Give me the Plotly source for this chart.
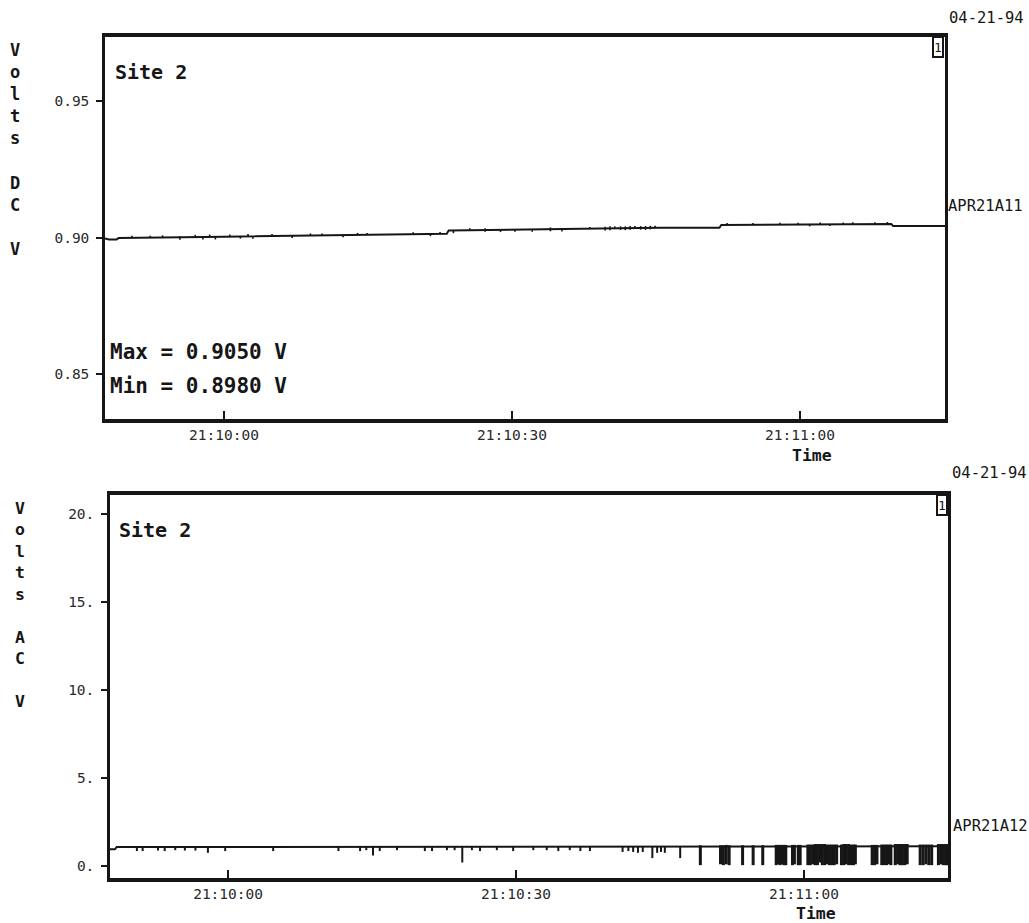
import pandas as pd
import plotly.graph_objects as go

BASE = pd.Timestamp("1994-04-21 21:10:00")

# ---------------- DC channel APR21A11 (seconds from 21:10:00, volts) ----------------
dc_time = [-12.4, -12.0, -11.2, -11.0, 0.0, 10.0, 23.2, 23.4, 33.6, 39.2, 45.4,
           51.6, 51.8, 60.0, 69.5, 69.7, 75.2]
dc_volts = [0.8997, 0.8993, 0.8993, 0.8998, 0.9003, 0.9008, 0.9014, 0.9026, 0.9029,
            0.9033, 0.9036, 0.9036, 0.9046, 0.9048, 0.9050, 0.9042, 0.9042]

# per-sample min / max excursions of the DC reading
dc_spike_time = [-9.6, -7.7, -6.4, -4.6, -3.0, -2.2, -1.5, -0.9, 0.6, 1.7,
                 2.5, 3.0, 5.0, 7.1, 9.0, 10.2, 12.4, 13.9, 14.9, 19.7,
                 21.5, 22.5, 23.9, 25.6, 27.2, 28.8, 30.3, 32.1, 34.0, 35.2,
                 38.1, 39.7, 40.2, 40.7, 41.3, 41.8, 42.3, 42.8, 43.4, 43.9,
                 44.4, 44.9, 52.4, 55.1, 57.9, 59.8, 61.0, 62.1, 63.1, 64.5,
                 65.5, 67.8, 69.1]
dc_spike_low = [0.8998, 0.8999, 0.8999, 0.8992, 0.9001, 0.8993, 0.9002, 0.8993, 0.9003, 0.8996,
                0.9004, 0.8996, 0.9005, 0.8998, 0.9007, 0.9008, 0.9001, 0.9009, 0.9010, 0.9012,
                0.9005, 0.9013, 0.9016, 0.9027, 0.9021, 0.9020, 0.9021, 0.9021, 0.9023, 0.9022,
                0.9032, 0.9026, 0.9027, 0.9034, 0.9028, 0.9027, 0.9029, 0.9035, 0.9029, 0.9028,
                0.9030, 0.9036, 0.9046, 0.9047, 0.9047, 0.9048, 0.9041, 0.9048, 0.9042, 0.9049,
                0.9049, 0.9050, 0.9050]
dc_spike_high = [0.9007, 0.9007, 0.9008, 0.9004, 0.9010, 0.9002, 0.9011, 0.9002, 0.9011, 0.9004,
                 0.9013, 0.9004, 0.9013, 0.9006, 0.9015, 0.9015, 0.9009, 0.9017, 0.9017, 0.9019,
                 0.9013, 0.9020, 0.9026, 0.9034, 0.9034, 0.9028, 0.9028, 0.9029, 0.9037, 0.9030,
                 0.9039, 0.9040, 0.9041, 0.9041, 0.9041, 0.9041, 0.9042, 0.9042, 0.9042, 0.9042,
                 0.9043, 0.9043, 0.9053, 0.9053, 0.9054, 0.9054, 0.9048, 0.9055, 0.9049, 0.9055,
                 0.9056, 0.9056, 0.9057]

# ---------------- AC channel APR21A12 (seconds from 21:10:00, volts) ----------------
ac_time = [-12.3, -11.8, -11.6, 20.0, 40.0, 60.0, 75.0]
ac_volts = [0.95, 0.95, 1.08, 1.08, 1.10, 1.12, 1.12]

# small dips of the AC reading
ac_dip_time = [-9.5, -8.9, -7.3, -6.6, -5.5, -4.5, -3.4, -2.1, -0.3, 4.7,
               11.5, 13.75, 14.4, 15.1, 15.8, 17.6, 20.5, 21.25, 22.8, 23.6,
               24.4, 25.4, 26.25, 28.0, 29.7, 31.8, 33.2, 34.4, 35.6, 36.7,
               37.7, 41.1, 41.7, 42.2, 42.7, 43.2, 44.2, 44.7, 45.1, 45.5,
               47.1]
ac_dip_low = [0.85, 0.85, 0.88, 0.85, 0.90, 0.88, 0.88, 0.75, 0.85, 0.85,
              0.85, 0.85, 0.90, 0.60, 0.85, 0.90, 0.85, 0.85, 0.90, 0.90,
              0.20, 0.90, 0.85, 0.90, 0.85, 0.90, 0.90, 0.85, 0.90, 0.85,
              0.85, 0.80, 0.85, 0.80, 0.75, 0.80, 0.45, 0.75, 0.80, 0.75,
              0.45]
ac_dip_high = [1.08, 1.08, 1.08, 1.08, 1.08, 1.08, 1.08, 1.08, 1.08, 1.08,
               1.08, 1.08, 1.08, 1.08, 1.08, 1.08, 1.08, 1.08, 1.08, 1.08,
               1.08, 1.08, 1.08, 1.08, 1.08, 1.09, 1.09, 1.09, 1.09, 1.09,
               1.10, 1.10, 1.10, 1.10, 1.10, 1.10, 1.10, 1.10, 1.10, 1.10,
               1.10]

# burst of full-depth drop-outs near the end of the record
ac_burst_time = [49.2, 51.3, 51.6, 51.9, 52.2, 53.6, 54.7, 55.7, 57.1, 57.3,
                 57.5, 57.7, 57.9, 58.1, 58.8, 59.0, 59.4, 59.6, 60.4, 60.65,
                 60.9, 61.15, 61.4, 61.65, 61.9, 62.15, 62.4, 62.65, 62.9, 63.15,
                 63.4, 63.9, 64.15, 64.4, 64.65, 64.9, 65.15, 65.35, 67.1, 67.35,
                 67.6, 68.1, 68.35, 68.6, 68.85, 69.05, 69.5, 69.75, 70.0, 70.25,
                 70.5, 70.75, 72.1, 72.4, 72.7, 73.0, 73.3, 74.0, 74.25, 74.5,
                 74.75, 74.95]
ac_burst_low = [0.05, 0.10, 0.05, 0.10, 0.05, 0.05, 0.05, 0.05, 0.05, 0.10,
                0.05, 0.10, 0.05, 0.05, 0.05, 0.10, 0.05, 0.05, 0.05, 0.05,
                0.10, 0.05, 0.05, 0.20, 0.05, 0.05, 0.10, 0.05, 0.05, 0.05,
                0.10, 0.05, 0.05, 0.10, 0.05, 0.05, 0.05, 0.10, 0.05, 0.05,
                0.10, 0.05, 0.05, 0.05, 0.10, 0.05, 0.05, 0.10, 0.05, 0.05,
                0.05, 0.10, 0.05, 0.05, 0.10, 0.05, 0.05, 0.05, 0.10, 0.05,
                0.05, 0.05]
ac_burst_high = [1.18, 1.18, 1.18, 1.20, 1.18, 1.18, 1.18, 1.18, 1.20, 1.20,
                 1.20, 1.20, 1.20, 1.20, 1.20, 1.20, 1.20, 1.20, 1.22, 1.22,
                 1.22, 1.25, 1.25, 1.25, 1.25, 1.25, 1.22, 1.22, 1.22, 1.22,
                 1.22, 1.22, 1.25, 1.25, 1.25, 1.22, 1.22, 1.22, 1.20, 1.20,
                 1.20, 1.22, 1.22, 1.22, 1.22, 1.22, 1.25, 1.25, 1.25, 1.25,
                 1.25, 1.25, 1.22, 1.22, 1.22, 1.22, 1.22, 1.25, 1.25, 1.25,
                 1.25, 1.25]

x_tick_secs = [0, 30, 60]
x_tick_text = ["21:10:00", "21:10:30", "21:11:00"]
dc_tick_vals = [0.85, 0.90, 0.95]
dc_tick_text = ["0.85", "0.90", "0.95"]
ac_tick_vals = [0, 5, 10, 15, 20]
ac_tick_text = ["0.", "5.", "10.", "15.", "20."]


def ts(secs):
    return [(BASE + pd.Timedelta(seconds=s)).strftime("%Y-%m-%d %H:%M:%S.%f") for s in secs]


def spike_xy(t, lo, hi):
    xs, ys = [], []
    for a, b, c in zip(ts(t), lo, hi):
        xs += [a, a, None]
        ys += [b, c, None]
    return xs, ys


W, H = 1029, 923
def px(x):
    return x / W
def py(y):
    return 1 - y / H

INK = "#161616"
MONO = "DejaVu Sans Mono"

fig = go.Figure()

# DC panel
fig.add_trace(go.Scatter(x=ts(dc_time), y=dc_volts, mode="lines",
                         line=dict(color=INK, width=2), xaxis="x", yaxis="y",
                         hoverinfo="skip"))
sx, sy = spike_xy(dc_spike_time, dc_spike_low, dc_spike_high)
fig.add_trace(go.Scatter(x=sx, y=sy, mode="lines", line=dict(color=INK, width=1.6),
                         xaxis="x", yaxis="y", hoverinfo="skip", connectgaps=False))

# AC panel
fig.add_trace(go.Scatter(x=ts(ac_time), y=ac_volts, mode="lines",
                         line=dict(color=INK, width=2), xaxis="x2", yaxis="y2",
                         hoverinfo="skip"))
sx, sy = spike_xy(ac_dip_time, ac_dip_low, ac_dip_high)
fig.add_trace(go.Scatter(x=sx, y=sy, mode="lines", line=dict(color=INK, width=2),
                         xaxis="x2", yaxis="y2", hoverinfo="skip", connectgaps=False))
sx, sy = spike_xy(ac_burst_time, ac_burst_low, ac_burst_high)
fig.add_trace(go.Scatter(x=sx, y=sy, mode="lines", line=dict(color=INK, width=3),
                         xaxis="x2", yaxis="y2", hoverinfo="skip", connectgaps=False))

tick_font = dict(family=MONO, size=14.5, color="#2a2a2a")
common_x = dict(type="date", tickvals=ts(x_tick_secs), ticktext=x_tick_text,
                ticks="inside", ticklen=8, tickwidth=1.5, tickcolor=INK,
                showline=True, mirror=True, linewidth=4, linecolor=INK,
                showgrid=False, zeroline=False, tickfont=tick_font)
common_y = dict(ticks="outside", ticklen=6, tickwidth=1.5, tickcolor=INK,
                showline=True, mirror=True, linewidth=2.5, linecolor=INK,
                showgrid=False, zeroline=False, tickfont=tick_font,
                ticklabelstandoff=4)

fig.update_layout(
    width=W, height=H,
    margin=dict(l=0, r=0, t=0, b=0),
    paper_bgcolor="white", plot_bgcolor="white",
    showlegend=False,
    xaxis=dict(domain=[px(105), px(945)], anchor="y",
               range=ts([-12.4, 75.1]), **common_x),
    yaxis=dict(domain=[py(419), py(37)], anchor="x", range=[0.8335, 0.9735],
               tickvals=dc_tick_vals, ticktext=dc_tick_text, **common_y),
    xaxis2=dict(domain=[px(110), px(948)], anchor="y2",
                range=ts([-12.3, 75.0]), **common_x),
    yaxis2=dict(domain=[py(878), py(495)], anchor="x2", range=[-0.68, 21.08],
                tickvals=ac_tick_vals, ticktext=ac_tick_text, **common_y),
)

ann = []
def text(x, y, s, size=16, bold=False, xanchor="center", yanchor="middle", **kw):
    ann.append(dict(x=px(x), y=py(y), xref="paper", yref="paper", showarrow=False,
                    text=f"<b>{s}</b>" if bold else s, xanchor=xanchor, yanchor=yanchor,
                    font=dict(family=MONO, size=size, color=INK), **kw))

# vertical axis titles
text(15, 149, "V<br>o<br>l<br>t<br>s<br> <br>D<br>C<br> <br>V", size=17, bold=True)
text(20, 605, "V<br>o<br>l<br>t<br>s<br> <br>A<br>C<br> <br>V", size=16.5, bold=True)

# panel labels
text(113, 72, "Site 2", size=20, bold=True, xanchor="left")
text(117, 530, "Site 2", size=20, bold=True, xanchor="left")
text(108, 352, "Max = 0.9050 V", size=21, bold=True, xanchor="left")
text(108, 386, "Min = 0.8980 V", size=21, bold=True, xanchor="left")

# dates and channel names
text(947, 18, "04-21-94", size=15.5, xanchor="left")
text(950, 473, "04-21-94", size=15.5, xanchor="left")
text(946, 206, "APR21A11", size=15.5, xanchor="left")
text(951, 826, "APR21A12", size=15.5, xanchor="left")

# Time labels
text(812, 455, "Time", size=16.5, bold=True)
text(816, 913, "Time", size=16.5, bold=True)

# little channel boxes hanging from the top-right corner of each frame
ann.append(dict(x=px(938), y=py(47), xref="paper", yref="paper", showarrow=False,
                xanchor="center", yanchor="middle",
                text="1", font=dict(family=MONO, size=13, color=INK), height=18,
                bordercolor=INK, borderwidth=2, borderpad=0, bgcolor="white"))
ann.append(dict(x=px(942), y=py(505), xref="paper", yref="paper", showarrow=False,
                xanchor="center", yanchor="middle",
                text="1", font=dict(family=MONO, size=13, color=INK), height=18,
                bordercolor=INK, borderwidth=2, borderpad=0, bgcolor="white"))

fig.update_layout(annotations=ann)

fig.write_html("out.html", config={"displayModeBar": False},
               post_script="document.body.style.margin='0';document.body.style.overflow='hidden';")
